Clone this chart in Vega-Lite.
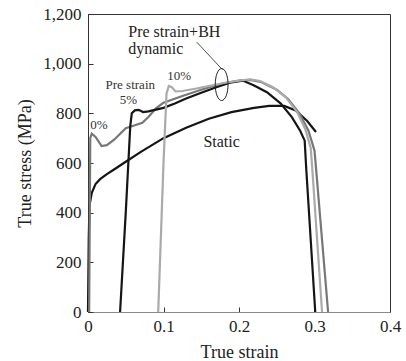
{
  "$schema": "https://vega.github.io/schema/vega-lite/v6.json",
  "width": 302,
  "height": 298,
  "autosize": "none",
  "padding": {"left": 88, "top": 14, "right": 16, "bottom": 49},
  "background": "white",
  "config": {
    "view": {"stroke": "#333", "strokeWidth": 1},
    "font": "Liberation Serif",
    "text": {"font": "Liberation Serif"},
    "axis": {
      "labelFont": "Liberation Serif",
      "titleFont": "Liberation Serif",
      "labelFontSize": 17,
      "titleFontSize": 18,
      "titleFontWeight": "normal",
      "labelColor": "#222",
      "titleColor": "#222",
      "grid": false,
      "labelFlush": false,
      "labelOverlap": false,
      "tickSize": -5,
      "tickColor": "#333",
      "domainColor": "#555"
    }
  },
  "datasets": {
    "curves": [
      {"series": "Static", "x": 0, "y": 0},
      {"series": "Static", "x": 0.001, "y": 300},
      {"series": "Static", "x": 0.002, "y": 430},
      {"series": "Static", "x": 0.005, "y": 480},
      {"series": "Static", "x": 0.01, "y": 515},
      {"series": "Static", "x": 0.016, "y": 535},
      {"series": "Static", "x": 0.025, "y": 555},
      {"series": "Static", "x": 0.035, "y": 575},
      {"series": "Static", "x": 0.05, "y": 605},
      {"series": "Static", "x": 0.07, "y": 645},
      {"series": "Static", "x": 0.1, "y": 700},
      {"series": "Static", "x": 0.13, "y": 742},
      {"series": "Static", "x": 0.16, "y": 778},
      {"series": "Static", "x": 0.19, "y": 805},
      {"series": "Static", "x": 0.22, "y": 822},
      {"series": "Static", "x": 0.24, "y": 830},
      {"series": "Static", "x": 0.26, "y": 830},
      {"series": "Static", "x": 0.275, "y": 812},
      {"series": "Static", "x": 0.29, "y": 770},
      {"series": "Static", "x": 0.302, "y": 725},

      {"series": "D0", "x": 0.0015, "y": 0},
      {"series": "D0", "x": 0.003, "y": 700},
      {"series": "D0", "x": 0.005, "y": 718},
      {"series": "D0", "x": 0.01, "y": 705},
      {"series": "D0", "x": 0.018, "y": 668},
      {"series": "D0", "x": 0.025, "y": 672},
      {"series": "D0", "x": 0.035, "y": 695},
      {"series": "D0", "x": 0.05, "y": 740},
      {"series": "D0", "x": 0.062, "y": 752},
      {"series": "D0", "x": 0.072, "y": 762},
      {"series": "D0", "x": 0.08, "y": 785},
      {"series": "D0", "x": 0.09, "y": 820},
      {"series": "D0", "x": 0.1, "y": 843},
      {"series": "D0", "x": 0.125, "y": 870},
      {"series": "D0", "x": 0.15, "y": 895},
      {"series": "D0", "x": 0.175, "y": 918},
      {"series": "D0", "x": 0.2, "y": 932},
      {"series": "D0", "x": 0.215, "y": 935},
      {"series": "D0", "x": 0.23, "y": 925},
      {"series": "D0", "x": 0.25, "y": 895},
      {"series": "D0", "x": 0.265, "y": 858},
      {"series": "D0", "x": 0.28, "y": 800},
      {"series": "D0", "x": 0.292, "y": 730},
      {"series": "D0", "x": 0.3, "y": 650},
      {"series": "D0", "x": 0.302, "y": 580},
      {"series": "D0", "x": 0.318, "y": 0},

      {"series": "D5", "x": 0.0425, "y": 0},
      {"series": "D5", "x": 0.05, "y": 400},
      {"series": "D5", "x": 0.056, "y": 750},
      {"series": "D5", "x": 0.058, "y": 800},
      {"series": "D5", "x": 0.062, "y": 812},
      {"series": "D5", "x": 0.067, "y": 814},
      {"series": "D5", "x": 0.073, "y": 805},
      {"series": "D5", "x": 0.08, "y": 808},
      {"series": "D5", "x": 0.09, "y": 815},
      {"series": "D5", "x": 0.1, "y": 822},
      {"series": "D5", "x": 0.115, "y": 840},
      {"series": "D5", "x": 0.13, "y": 860},
      {"series": "D5", "x": 0.15, "y": 883},
      {"series": "D5", "x": 0.17, "y": 905},
      {"series": "D5", "x": 0.19, "y": 925},
      {"series": "D5", "x": 0.205, "y": 932},
      {"series": "D5", "x": 0.22, "y": 912},
      {"series": "D5", "x": 0.237, "y": 885},
      {"series": "D5", "x": 0.255, "y": 840},
      {"series": "D5", "x": 0.27, "y": 785},
      {"series": "D5", "x": 0.281, "y": 730},
      {"series": "D5", "x": 0.287, "y": 690},
      {"series": "D5", "x": 0.289, "y": 580},
      {"series": "D5", "x": 0.301, "y": 0},

      {"series": "D10", "x": 0.093, "y": 0},
      {"series": "D10", "x": 0.1, "y": 600},
      {"series": "D10", "x": 0.104, "y": 880},
      {"series": "D10", "x": 0.107, "y": 910},
      {"series": "D10", "x": 0.111, "y": 905},
      {"series": "D10", "x": 0.116, "y": 888},
      {"series": "D10", "x": 0.125, "y": 890},
      {"series": "D10", "x": 0.14, "y": 898},
      {"series": "D10", "x": 0.16, "y": 910},
      {"series": "D10", "x": 0.18, "y": 922},
      {"series": "D10", "x": 0.2, "y": 932},
      {"series": "D10", "x": 0.215, "y": 937},
      {"series": "D10", "x": 0.228, "y": 930},
      {"series": "D10", "x": 0.245, "y": 905},
      {"series": "D10", "x": 0.262, "y": 865},
      {"series": "D10", "x": 0.277, "y": 805},
      {"series": "D10", "x": 0.288, "y": 735},
      {"series": "D10", "x": 0.295, "y": 660},
      {"series": "D10", "x": 0.297, "y": 580},
      {"series": "D10", "x": 0.31, "y": 0}
    ],
    "bigLabels": [
      {"label": "Pre strain+BH", "x": 0.0533, "y": 1129},
      {"label": "dynamic", "x": 0.0533, "y": 1061}
    ],
    "staticLabel": [
      {"label": "Static", "x": 0.177, "y": 683}
    ],
    "smallLabels": [
      {"label": "Pre strain", "x": 0.056, "y": 916},
      {"label": "5%", "x": 0.0537, "y": 853},
      {"label": "10%", "x": 0.1207, "y": 949},
      {"label": "0%", "x": 0.0145, "y": 753}
    ],
    "ellipse": [{"x": 0.177, "y": 916}],
    "leader": [{"x": 0.144, "y": 1087, "x2": 0.178, "y2": 976}]
  },
  "encoding": {
    "x": {
      "field": "x", "type": "quantitative",
      "scale": {"domain": [0, 0.4]},
      "axis": {
        "title": "True strain",
        "values": [0, 0.1, 0.2, 0.3, 0.4],
        "labelExpr": "datum.value == 0 ? '0' : format(datum.value, '.1f')",
        "labelPadding": 11,
        "titlePadding": 9,
        "domainColor": "#888"
      }
    },
    "y": {
      "field": "y", "type": "quantitative",
      "scale": {"domain": [0, 1200]},
      "axis": {
        "title": "True stress (MPa)",
        "values": [0, 200, 400, 600, 800, 1000, 1200],
        "labelExpr": "format(datum.value, ',d')",
        "labelPadding": 12,
        "titlePadding": 8,
        "domainColor": "#333"
      }
    }
  },
  "layer": [
    {
      "data": {"name": "curves"},
      "mark": {"type": "line", "strokeWidth": 2.2, "interpolate": "linear"},
      "encoding": {
        "detail": {"field": "series"},
        "color": {
          "field": "series", "type": "nominal",
          "scale": {"domain": ["Static", "D0", "D5", "D10"], "range": ["#151515", "#777777", "#151515", "#aaaaaa"]},
          "legend": null
        }
      }
    },
    {
      "data": {"name": "leader"},
      "mark": {"type": "rule", "color": "#222", "strokeWidth": 0.8},
      "encoding": {
        "x2": {"field": "x2"},
        "y2": {"field": "y2"}
      }
    },
    {
      "data": {"name": "ellipse"},
      "mark": {"type": "point", "shape": "M0,-1A0.4,1,0,1,0,0,1A0.4,1,0,1,0,0,-1Z", "size": 1024, "filled": false, "stroke": "#222", "strokeWidth": 1, "opacity": 1}
    },
    {
      "data": {"name": "bigLabels"},
      "mark": {"type": "text", "font": "Liberation Serif", "fontSize": 16, "align": "left", "baseline": "middle", "color": "#222"},
      "encoding": {"text": {"field": "label"}}
    },
    {
      "data": {"name": "staticLabel"},
      "mark": {"type": "text", "font": "Liberation Serif", "fontSize": 16, "align": "center", "baseline": "middle", "color": "#222"},
      "encoding": {"text": {"field": "label"}}
    },
    {
      "data": {"name": "smallLabels"},
      "mark": {"type": "text", "font": "Liberation Serif", "fontSize": 13, "align": "center", "baseline": "middle", "color": "#333"},
      "encoding": {"text": {"field": "label"}}
    }
  ]
}
